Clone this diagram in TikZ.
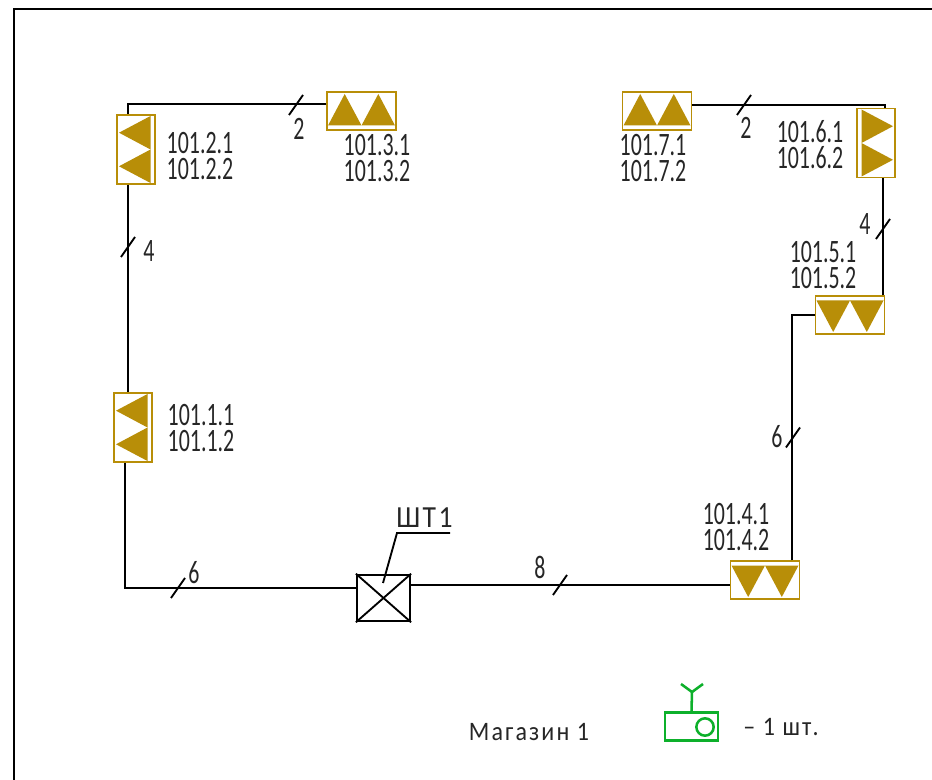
\documentclass[tikz,border=0pt]{standalone}
\usepackage{fontspec}
\setmainfont[FakeStretch=0.67]{Carlito}
\newfontfamily\widefont[FakeStretch=0.9, LetterSpace=8]{Carlito}
\usetikzlibrary{calc}
\definecolor{unitgold}{HTML}{B88E08}
\definecolor{radiogreen}{HTML}{0DB02B}

% triangles of one antenna unit: x, y, rotation
\newcommand{\unittri}[3]{
	\begin{scope}[shift={(#1,#2)}, rotate=#3]
		\fill[unitgold] (-33.5,14.5) -- (-16.8,-17) -- (0,14.5) -- cycle;
		\fill[unitgold] (0,14.5) -- (16.8,-17) -- (33.5,14.5) -- cycle;
	\end{scope}
}

\begin{document}
\begin{tikzpicture}[x=0.75pt, y=-0.75pt]
	\tikzstyle{wire} = [draw, black, line width=1.9pt]
	\tikzstyle{thin wire} = [draw, black, line width=1.4pt]
	\tikzstyle{unitw} = [draw=unitgold, line width=1.1pt, minimum width=51.5pt, minimum height=28.5pt, inner sep=0pt]
	\tikzstyle{unith} = [draw=unitgold, line width=1.1pt, minimum width=28.5pt, minimum height=51.5pt, inner sep=0pt]
	\tikzstyle{format} = [font=\fontsize{24.5}{19.5}\selectfont, align=right, text=black!85, inner sep=0pt]
	\tikzstyle{num} = [font=\fontsize{24.5}{24.5}\selectfont, text=black!85, inner sep=0pt]
	\tikzstyle{caption} = [font=\widefont\fontsize{20}{20}\selectfont, text=black!85, inner sep=0pt]
	\tikzstyle{radio} = [draw=radiogreen, line width=1.9pt]

	\useasboundingbox (0,0) rectangle (932,780);
	\fill[white] (0,0) rectangle (932,780);
	% frame
	\draw[line width=1.8pt] (932,9) -- (14,9) -- (14,780);

	\path
		node[unith] (u1) at (133,427.5) {}
		node[unith] (u2) at (136,149.5) {}
		node[unitw] (u3) at (361.5,111) {}
		node[unitw] (u4) at (765,580) {}
		node[unitw] (u5) at (850,315) {}
		node[unith] (u6) at (876,143) {}
		node[unitw] (u7) at (657,111) {}
		node[draw, line width=1.9pt, minimum width=39.5pt, minimum height=34.5pt, inner sep=0pt] (box) at (383.5,598) {}

		node[format] (t1) at (201,428) {101.1.1\\101.1.2}
		node[format] (t2) at (200,156) {101.2.1\\101.2.2}
		node[format] (t3) at (377,158) {101.3.1\\101.3.2}
		node[format] (t4) at (736,527) {101.4.1\\101.4.2}
		node[format] (t5) at (823,265) {101.5.1\\101.5.2}
		node[format] (t6) at (810,145) {101.6.1\\101.6.2}
		node[format] (t7) at (653,158) {101.7.1\\101.7.2}

		node[num] (n1) at (299,129) {2}
		node[num] (n2) at (149,251) {4}
		node[num] (n3) at (746,128) {2}
		node[num] (n4) at (865,224) {4}
		node[num] (n5) at (777,437) {6}
		node[num] (n6) at (540,567) {8}
		node[num] (n7) at (194,573) {6}
		node[caption, font=\widefont\fontsize{23}{23}\selectfont] (name) at (424.5,518) {ШТ1}
		node[caption] (shop) at (529,732) {Магазин 1}
		node[caption] (count) at (781,727) {– 1 шт.}
	;

	\unittri{133}{427.5}{90}
	\unittri{136}{149.5}{90}
	\unittri{361.5}{111}{0}
	\unittri{765}{580}{180}
	\unittri{850}{315}{180}
	\unittri{876}{143}{-90}
	\unittri{657}{111}{0}

	% cables
	\draw[wire] ($(u3.west)+(0,-7)$) -| ($(u2.north)+(-8,0)$);
	\draw[wire] ($(u2.south)+(-8,0)$) -- ($(u1.north)+(-5,0)$);
	\draw[wire] ($(u1.south)+(-8,0)$) |- ($(box.west)+(0,-10)$);
	\draw[wire] ($(box.east)+(0,-13)$) -- ($(u4.west)+(0,5)$);
	\draw[wire] ($(u4.north)+(27,0)$) |- (u5.west);
	\draw[wire] ($(u5.north)+(33,0)$) -- ($(u6.south)+(7,0)$);
	\draw[wire] ($(u6.north)+(9,0)$) |- ($(u7.east)+(0,-6)$);

	\foreach \x/\y in {296/105, 128/247, 744/105, 883/229, 793/437.5, 560/585, 178/588}
		\draw[thin wire, shift={(\x,\y)}] (-7,10) -- (7,-10);

	% switchboard
	\draw[thin wire] (box.north west) -- (box.south east);
	\draw[thin wire] (box.south west) -- (box.north east);
	\coordinate (lead) at (397,533);
	\coordinate (leadend) at (450,533);
	\draw[thin wire] (383,583) -- (lead) -- (leadend);

	% radio unit
	\node[draw=radiogreen, line width=1.9pt, minimum width=39.5pt, minimum height=21pt, inner sep=0pt] (radiobox) at (691.5,726.5) {};
	\node[circle, draw=radiogreen, line width=1.9pt, minimum size=13pt, inner sep=0pt] (radiolamp) at (705,727) {};
	\coordinate (mast) at (692,692);
	\draw[radio] (radiobox.north) -- (mast);
	\draw[radio] (681,684) -- (mast) -- (703,684);
\end{tikzpicture}
\end{document}
